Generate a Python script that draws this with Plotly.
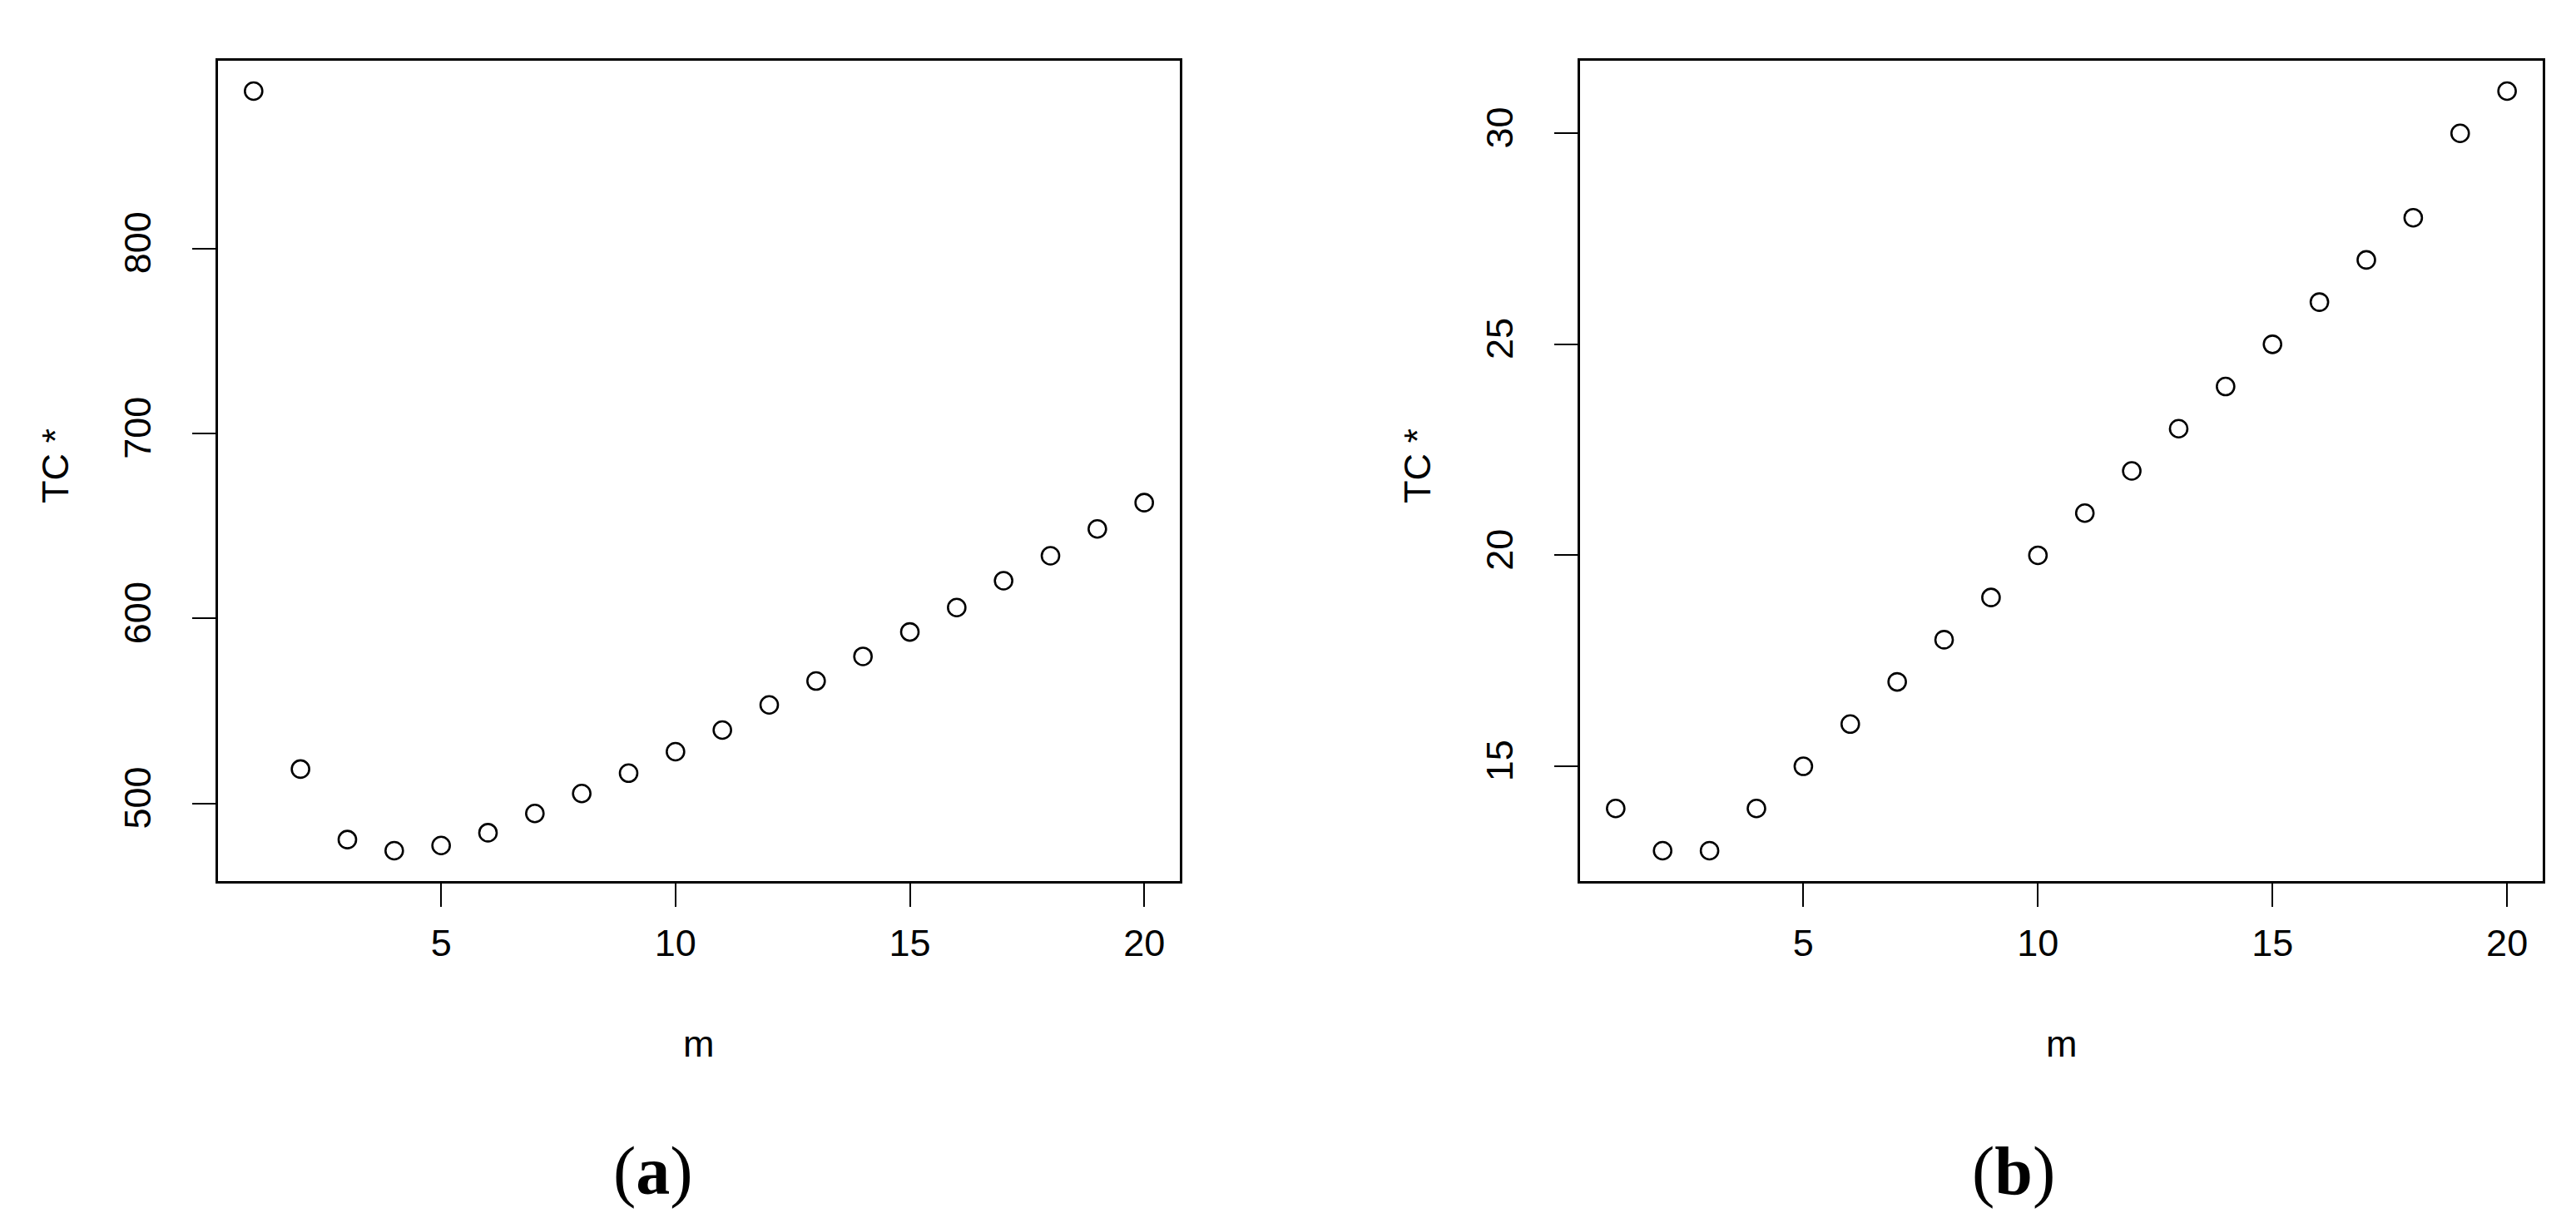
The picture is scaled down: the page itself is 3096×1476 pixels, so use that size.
import plotly.graph_objects as go

W, H = 3096, 1476

# ---- data ----
m = list(range(1, 21))
tc_a = [885.0, 518.6, 480.5, 474.5, 477.3, 484.2, 494.6, 505.4, 516.4, 528.0,
        539.7, 553.3, 566.2, 579.5, 592.7, 605.9, 620.4, 633.9, 648.4, 662.6]
tc_b = [14, 13, 13, 14, 15, 16, 17, 18, 19, 20,
        21, 22, 23, 24, 25, 26, 27, 28, 30, 31]
x_ticks = [5, 10, 15, 20]
y_ticks_a = [500, 600, 700, 800]
y_ticks_b = [15, 20, 25, 30]
x_title = "m"
y_title = "TC *"
panel_labels = ["(<b>a</b>)", "(<b>b</b>)"]


def rrange(vals):
    lo, hi = min(vals), max(vals)
    d = hi - lo
    return [lo - 0.04 * d, hi + 0.04 * d]


def px(x):
    return x / W


def py(y):
    return 1 - y / H


box_a = (254, 1410)
box_b = (1891, 3048)
box_top, box_bot = 65, 1051

FONT = "Liberation Sans, Arial, sans-serif"
tickfont = dict(family=FONT, size=45, color="black")

fig = go.Figure()
marker = dict(symbol="circle-open", size=21, color="black", line=dict(width=2.6, color="black"))
fig.add_trace(go.Scatter(x=m, y=tc_a, mode="markers", marker=marker, xaxis="x", yaxis="y",
                         showlegend=False, hoverinfo="x+y"))
fig.add_trace(go.Scatter(x=m, y=tc_b, mode="markers", marker=marker, xaxis="x2", yaxis="y2",
                         showlegend=False, hoverinfo="x+y"))

common_ax = dict(
    showgrid=False, zeroline=False, showline=True, mirror=True,
    linecolor="black", linewidth=3, ticks="outside", ticklen=28, tickwidth=2,
    tickcolor="black", tickfont=tickfont,
)

xr = rrange(m)
fig.update_layout(
    width=W, height=H,
    margin=dict(l=0, r=0, t=0, b=0),
    paper_bgcolor="white", plot_bgcolor="white",
    xaxis=dict(domain=[px(box_a[0]), px(box_a[1])], range=xr, anchor="y",
               tickvals=x_ticks, ticklabelstandoff=5, **common_ax),
    yaxis=dict(domain=[py(box_bot), py(box_top)], range=rrange(tc_a), anchor="x",
               tickvals=y_ticks_a, tickangle=-90, ticklabelstandoff=32, **common_ax),
    xaxis2=dict(domain=[px(box_b[0]), px(box_b[1])], range=xr, anchor="y2",
                tickvals=x_ticks, ticklabelstandoff=5, **common_ax),
    yaxis2=dict(domain=[py(box_bot), py(box_top)], range=rrange(tc_b), anchor="x2",
                tickvals=y_ticks_b, tickangle=-90, ticklabelstandoff=32, **common_ax),
)

anns = []
for (l, r), lab, cx in [(box_a, panel_labels[0], 777), (box_b, panel_labels[1], 2412)]:
    mid = (l + r) / 2
    anns.append(dict(x=px(mid), y=py(1246), xref="paper", yref="paper", text=x_title,
                     showarrow=False, font=dict(family=FONT, size=45, color="black"),
                     xanchor="center", yanchor="middle"))
    anns.append(dict(x=px(l - 196), y=py((box_top + box_bot) / 2 - 6), xref="paper", yref="paper",
                     text=y_title, textangle=-90, showarrow=False,
                     font=dict(family=FONT, size=45, color="black"),
                     xanchor="center", yanchor="middle"))
    anns.append(dict(x=px(cx), y=py(1399), xref="paper", yref="paper", text=lab,
                     showarrow=False, font=dict(family="Liberation Serif, Times New Roman, serif",
                                                size=82, color="black"),
                     xanchor="center", yanchor="middle"))
fig.update_layout(annotations=anns)

fig.write_html("out.html")
